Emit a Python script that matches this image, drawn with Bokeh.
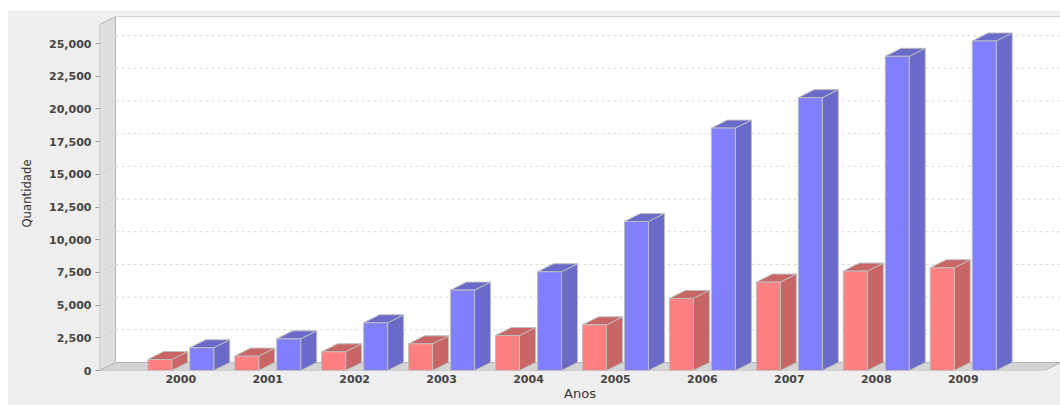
from bokeh.plotting import figure
from bokeh.models import Range1d, FixedTicker, NumeralTickFormatter
from bokeh.embed import file_html
from bokeh.resources import INLINE

# Dados
anos = ["2000", "2001", "2002", "2003", "2004", "2005", "2006", "2007", "2008", "2009"]
serie_vermelha = [840, 1100, 1430, 2040, 2680, 3490, 5510, 6760, 7600, 7860]
serie_azul = [1740, 2420, 3650, 6150, 7550, 11400, 18540, 20870, 24030, 25200]
y_ticks = [0, 2500, 5000, 7500, 10000, 12500, 15000, 17500, 20000, 22500, 25000]
eixo_y_max = 26460

# Geometria (pixels)
FRAME_W, FRAME_H = 961, 354
DEPTH_X, DEPTH_Y = 16, 8
CAT_MARGIN = 0.04
BAR_W, BAR_GAP = 24, 18

n = len(anos)
front_w = FRAME_W - DEPTH_X
step = front_w * (1 - 2 * CAT_MARGIN) / n          # px per category
x0 = -(CAT_MARGIN * front_w + step / 2) / step
x1 = x0 + FRAME_W / step
y1 = eixo_y_max * FRAME_H / (FRAME_H - DEPTH_Y)
dx = DEPTH_X / step
dy = DEPTH_Y * y1 / FRAME_H
bw = BAR_W / step
gap = BAR_GAP / step

p = figure(frame_width=FRAME_W, frame_height=FRAME_H,
           x_range=Range1d(x0, x1), y_range=Range1d(0, y1),
           output_backend="svg", toolbar_location=None,
           min_border_left=92, min_border_top=6, min_border_right=0, min_border_bottom=35,
           background_fill_color="#EEEEEE", border_fill_color="#EEEEEE",
           outline_line_color=None)
p.margin = (10, 0, 0, 7)
p.grid.visible = False

WALL_LINE = "#B4B4B4"
# paredes 3D
p.patch([x0 + dx, x1, x1, x0 + dx], [dy, dy, y1, y1],
        fill_color="white", line_color=WALL_LINE, line_width=1)
p.patch([x0, x0, x0 + dx, x0 + dx], [0, eixo_y_max, y1, dy],
        fill_color="#DEDEDE", line_color=WALL_LINE, line_width=1)
p.patch([x0, x0 + dx, x1, x1 - dx], [0, dy, dy, 0],
        fill_color="#D4D4D4", line_color=WALL_LINE, line_width=1)

# grade tracejada na parede do fundo e na lateral
grid_vals = [v for v in y_ticks if v > 0]
p.segment(x0=[x0 + dx] * len(grid_vals), y0=[v + dy for v in grid_vals],
          x1=[x1] * len(grid_vals), y1=[v + dy for v in grid_vals],
          line_color="#D8D8D8", line_dash="3 3", line_width=1)
p.segment(x0=[x0] * len(grid_vals), y0=grid_vals,
          x1=[x0 + dx] * len(grid_vals), y1=[v + dy for v in grid_vals],
          line_color="#CFCFCF", line_dash="3 3", line_width=1)


def barras_3d(valores, esquerda, frente, lado):
    lefts = [i + esquerda for i in range(n)]
    rights = [l + bw for l in lefts]
    tops_x = [[l, r, r + dx, l + dx] for l, r in zip(lefts, rights)]
    tops_y = [[v, v, v + dy, v + dy] for v in valores]
    side_x = [[r, r + dx, r + dx, r] for r in rights]
    side_y = [[0, dy, v + dy, v] for v in valores]
    p.patches(side_x, side_y, fill_color=lado, line_color="#BDBDBD", line_width=1)
    p.patches(tops_x, tops_y, fill_color=lado, line_color="#BDBDBD", line_width=1)
    p.quad(left=lefts, right=rights, bottom=0, top=valores,
           fill_color=frente, line_color="#BDBDBD", line_width=1)


barras_3d(serie_vermelha, -gap / 2 - bw, "#FF8080", "#C86666")
barras_3d(serie_azul, gap / 2, "#8080FF", "#6A6AC8")

# eixos
TICK_FONT = "DejaVu Sans"
yax = p.yaxis[0]
yax.ticker = FixedTicker(ticks=y_ticks)
yax.formatter = NumeralTickFormatter(format="0,0")
yax.axis_line_color = None
yax.major_tick_out = 4
yax.major_tick_in = 0
yax.major_tick_line_color = "#999999"
yax.minor_tick_line_color = None
yax.major_label_standoff = 4
yax.major_label_text_font = TICK_FONT
yax.major_label_text_font_style = "bold"
yax.major_label_text_font_size = "11px"
yax.major_label_text_color = "#444444"
yax.axis_label = "Quantidade"
yax.axis_label_text_font = "DejaVu Sans Condensed"
yax.axis_label_text_font_style = "normal"
yax.axis_label_text_font_size = "13px"
yax.axis_label_text_color = "#333333"
yax.axis_label_standoff = 12

xax = p.xaxis[0]
xax.ticker = FixedTicker(ticks=list(range(n)))
xax.major_label_overrides = {i: a for i, a in enumerate(anos)}
xax.axis_line_color = None
xax.major_tick_out = 0
xax.major_tick_in = 0
xax.major_tick_line_color = None
xax.minor_tick_line_color = None
xax.major_label_standoff = 4
xax.major_label_text_font = TICK_FONT
xax.major_label_text_font_style = "bold"
xax.major_label_text_font_size = "11px"
xax.major_label_text_color = "#444444"
xax.axis_label = "Anos"
xax.axis_label_text_font = "DejaVu Sans"
xax.axis_label_text_font_style = "normal"
xax.axis_label_text_font_size = "13px"
xax.axis_label_text_color = "#333333"
xax.axis_label_standoff = 0

open("out.html", "w").write(file_html(p, INLINE))
